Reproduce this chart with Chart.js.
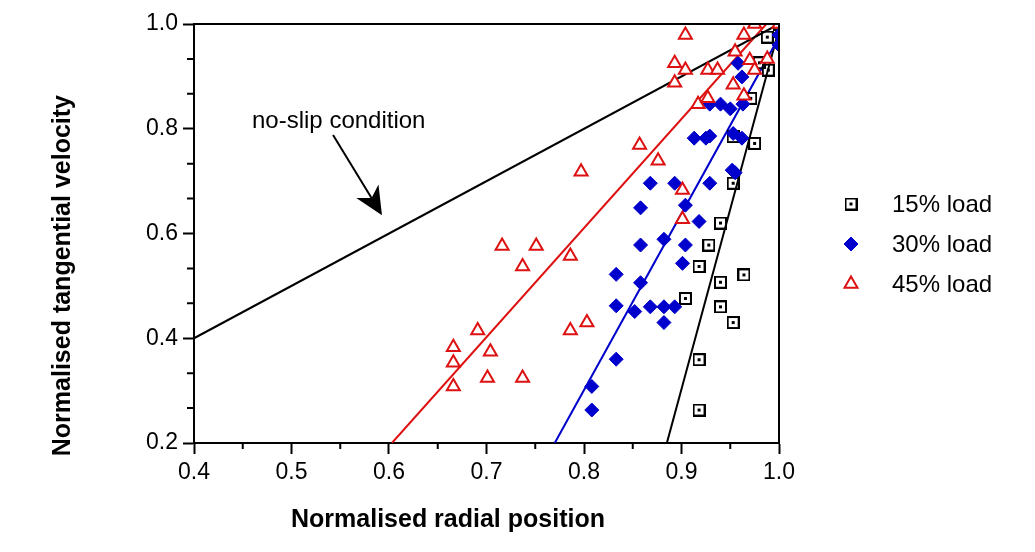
<!DOCTYPE html>
<html>
<head>
<meta charset="utf-8">
<script src="https://cdn.jsdelivr.net/npm/chart.js@4.4.1/dist/chart.umd.min.js"></script>
<style>
  html, body { margin: 0; padding: 0; background: #fff; }
  #wrap { width: 1035px; height: 552px; }
</style>
</head>
<body>
<div id="wrap"><canvas id="chart" width="1035" height="552"></canvas></div>
<script>
// axis ticks
const xTicks = [0.4, 0.5, 0.6, 0.7, 0.8, 0.9, 1.0];
const yTicks = [0.2, 0.4, 0.6, 0.8, 1.0];

const xTitle = "Normalised radial position";
const yTitle = "Normalised tangential velocity";
const seriesNames = ["15% load", "30% load", "45% load"];
const noteText = "no-slip condition";

// measured points [radial, tangential]
const load15 = [
  [0.918, 0.263], [0.918, 0.359], [0.904, 0.476], [0.918, 0.537], [0.928, 0.578],
  [0.940, 0.460], [0.940, 0.507], [0.940, 0.620], [0.953, 0.430], [0.953, 0.696],
  [0.964, 0.521], [0.953, 0.785], [0.975, 0.772], [0.971, 0.858], [0.980, 0.926],
  [0.989, 0.912], [0.988, 0.975], [1.0, 1.0]
];
const load30 = [
  [0.808, 0.263], [0.808, 0.308], [0.833, 0.360], [0.833, 0.462], [0.833, 0.522],
  [0.852, 0.451], [0.858, 0.506], [0.858, 0.578], [0.858, 0.649], [0.868, 0.460],
  [0.868, 0.696], [0.882, 0.430], [0.882, 0.460], [0.882, 0.589], [0.893, 0.460],
  [0.893, 0.696], [0.901, 0.543], [0.904, 0.578], [0.904, 0.654], [0.913, 0.782],
  [0.918, 0.623], [0.925, 0.782], [0.929, 0.786], [0.929, 0.696], [0.929, 0.847],
  [0.940, 0.847], [0.950, 0.838], [0.952, 0.721], [0.955, 0.716], [0.953, 0.791],
  [0.958, 0.925], [0.962, 0.899], [0.962, 0.782], [0.963, 0.847], [1.0, 0.979],
  [1.0, 0.960]
];
const load45 = [
  [0.666, 0.383], [0.666, 0.353], [0.666, 0.308], [0.691, 0.415], [0.701, 0.324],
  [0.704, 0.374], [0.716, 0.576], [0.737, 0.537], [0.737, 0.324], [0.751, 0.576],
  [0.786, 0.557], [0.786, 0.415], [0.797, 0.718], [0.803, 0.430], [0.857, 0.769],
  [0.876, 0.739], [0.901, 0.683], [0.901, 0.627], [0.893, 0.925], [0.893, 0.888],
  [0.904, 0.912], [0.904, 0.979], [0.917, 0.847], [0.927, 0.858], [0.927, 0.912],
  [0.937, 0.912], [0.953, 0.884], [0.955, 0.947], [0.964, 0.863], [0.964, 0.979],
  [0.970, 0.931], [0.975, 0.912], [0.975, 1.0], [0.988, 0.933], [1.0, 1.0]
];

// straight lines (end points)
const noSlip = [[0.4, 0.4], [1.0, 1.0]];
const fit15 = [[0.885, 0.2], [1.0, 0.99]];
const fit30 = [[0.770, 0.2], [1.0, 0.975]];
const fit45 = [[0.603, 0.2], [0.987, 1.0]];

const FONT = "'Liberation Sans', Arial, sans-serif";
const RED = "#dd1111";
const BLUE = "#0000cc";

function makeSquareIcon() {
  const c = document.createElement("canvas");
  c.width = 13; c.height = 13;
  const g = c.getContext("2d");
  g.strokeStyle = "#000";
  g.lineWidth = 2;
  g.strokeRect(1, 1, 11, 11);
  g.fillStyle = "#000";
  g.fillRect(5, 5, 3, 3);
  return c;
}
const squareIcon = makeSquareIcon();

const toPts = arr => arr.map(([x, y]) => ({ x, y }));

const styles = [
  { pointStyle: squareIcon, radius: 6.5, borderWidth: 0, borderColor: "#000", backgroundColor: "#000" },
  { pointStyle: "rectRot", radius: 7, borderWidth: 1, borderColor: BLUE, backgroundColor: BLUE },
  { pointStyle: "triangle", radius: 7.5, borderWidth: 2, borderColor: RED, backgroundColor: "#fff" }
];

function pointSet(label, data, st) {
  return {
    label, data: toPts(data), showLine: false,
    pointStyle: st.pointStyle, pointRadius: st.radius, pointHoverRadius: st.radius,
    pointBorderWidth: st.borderWidth, pointBorderColor: st.borderColor,
    pointBackgroundColor: st.backgroundColor
  };
}
function lineSet(label, data, color) {
  return {
    label, data: toPts(data), showLine: true, borderColor: color, borderWidth: 2,
    pointRadius: 0, fill: false
  };
}

// annotation placement in data units
const note = { x: 0.4595, y: 0.815, fromX: 0.5426, fromY: 0.788, toX: 0.5928, toY: 0.635 };

const extras = {
  id: "extras",
  afterDraw(chart) {
    const { ctx, chartArea: a, scales: { x, y } } = chart;
    ctx.save();
    ctx.strokeStyle = "#000";
    ctx.lineWidth = 2;
    // top and right frame
    ctx.beginPath();
    ctx.moveTo(a.left, a.top); ctx.lineTo(a.right, a.top); ctx.lineTo(a.right, a.bottom);
    ctx.stroke();
    // minor ticks
    ctx.beginPath();
    for (let i = 0; i < xTicks.length - 1; i++) {
      const px = x.getPixelForValue((xTicks[i] + xTicks[i + 1]) / 2);
      ctx.moveTo(px, a.bottom); ctx.lineTo(px, a.bottom + 6);
    }
    for (let i = 0; i < yTicks.length - 1; i++) {
      for (let k = 1; k < 3; k++) {
        const py = y.getPixelForValue(yTicks[i] + (yTicks[i + 1] - yTicks[i]) * k / 3);
        ctx.moveTo(a.left - 7, py); ctx.lineTo(a.left, py);
      }
    }
    ctx.stroke();

    // axis titles
    ctx.fillStyle = "#000";
    ctx.font = "bold 25px " + FONT;
    ctx.textBaseline = "middle";
    ctx.textAlign = "left";
    ctx.fillText(xTitle, 291, 520);
    ctx.save();
    ctx.translate(63, 95);
    ctx.rotate(-Math.PI / 2);
    ctx.textAlign = "right";
    ctx.fillText(yTitle, 0, 0);
    ctx.restore();

    // annotation
    ctx.font = "24px " + FONT;
    ctx.textAlign = "left";
    ctx.fillText(noteText, x.getPixelForValue(note.x), y.getPixelForValue(note.y));
    const x0 = x.getPixelForValue(note.fromX), y0 = y.getPixelForValue(note.fromY);
    const x1 = x.getPixelForValue(note.toX), y1 = y.getPixelForValue(note.toY);
    const len = Math.hypot(x1 - x0, y1 - y0);
    const ux = (x1 - x0) / len, uy = (y1 - y0) / len;
    const nx = -uy, ny = ux;
    ctx.beginPath();
    ctx.moveTo(x0, y0);
    ctx.lineTo(x1 - ux * 18, y1 - uy * 18);
    ctx.stroke();
    ctx.beginPath();
    ctx.moveTo(x1, y1);
    ctx.lineTo(x1 - ux * 28 + nx * 13, y1 - uy * 28 + ny * 13);
    ctx.lineTo(x1 - ux * 20, y1 - uy * 20);
    ctx.lineTo(x1 - ux * 28 - nx * 13, y1 - uy * 28 - ny * 13);
    ctx.closePath();
    ctx.fill();

    // legend
    const order = [0, 1, 2];
    order.forEach((i, row) => {
      const ly = 204 + row * 40;
      const lx = a.right + 72;
      const st = styles[i];
      ctx.fillStyle = st.backgroundColor;
      ctx.strokeStyle = st.borderColor;
      ctx.lineWidth = st.borderWidth;
      Chart.helpers.drawPoint(ctx, { pointStyle: st.pointStyle, radius: st.radius, rotation: 0, borderWidth: st.borderWidth }, lx, ly);
      ctx.fillStyle = "#000";
      ctx.font = "24px " + FONT;
      ctx.textAlign = "left";
      ctx.textBaseline = "middle";
      ctx.fillText(seriesNames[i], a.right + 113, ly + 1);
    });
    ctx.restore();
  }
};

const ctx = document.getElementById("chart").getContext("2d");
new Chart(ctx, {
  type: "scatter",
  data: {
    datasets: [
      pointSet(seriesNames[2], load45, styles[2]),
      pointSet(seriesNames[1], load30, styles[1]),
      pointSet(seriesNames[0], load15, styles[0]),
      lineSet("no-slip", noSlip, "#000"),
      lineSet("fit 45", fit45, RED),
      lineSet("fit 30", fit30, BLUE),
      lineSet("fit 15", fit15, "#000")
    ]
  },
  options: {
    responsive: false,
    animation: false,
    layout: { padding: { left: 0, right: 256, top: 24, bottom: 0 } },
    plugins: { legend: { display: false }, tooltip: { enabled: false } },
    scales: {
      x: {
        type: "linear", min: 0.4, max: 1.0,
        afterBuildTicks: s => { s.ticks = xTicks.map(v => ({ value: v })); },
        afterFit: s => { s.height = 109; },
        ticks: { font: { family: FONT, size: 23 }, color: "#000", padding: 5, maxRotation: 0, autoSkip: false, callback: v => v.toFixed(1) },
        grid: { drawOnChartArea: false, tickLength: 11, tickWidth: 2, tickColor: "#000" },
        border: { color: "#000", width: 2 }
      },
      y: {
        type: "linear", min: 0.2, max: 1.0,
        afterBuildTicks: s => { s.ticks = yTicks.map(v => ({ value: v })); },
        afterFit: s => { s.width = 194; },
        ticks: { font: { family: FONT, size: 23 }, color: "#000", padding: 5, autoSkip: false, callback: v => v.toFixed(1) },
        grid: { drawOnChartArea: false, tickLength: 11, tickWidth: 2, tickColor: "#000" },
        border: { color: "#000", width: 2 }
      }
    }
  },
  plugins: [extras]
});
</script>
</body>
</html>
